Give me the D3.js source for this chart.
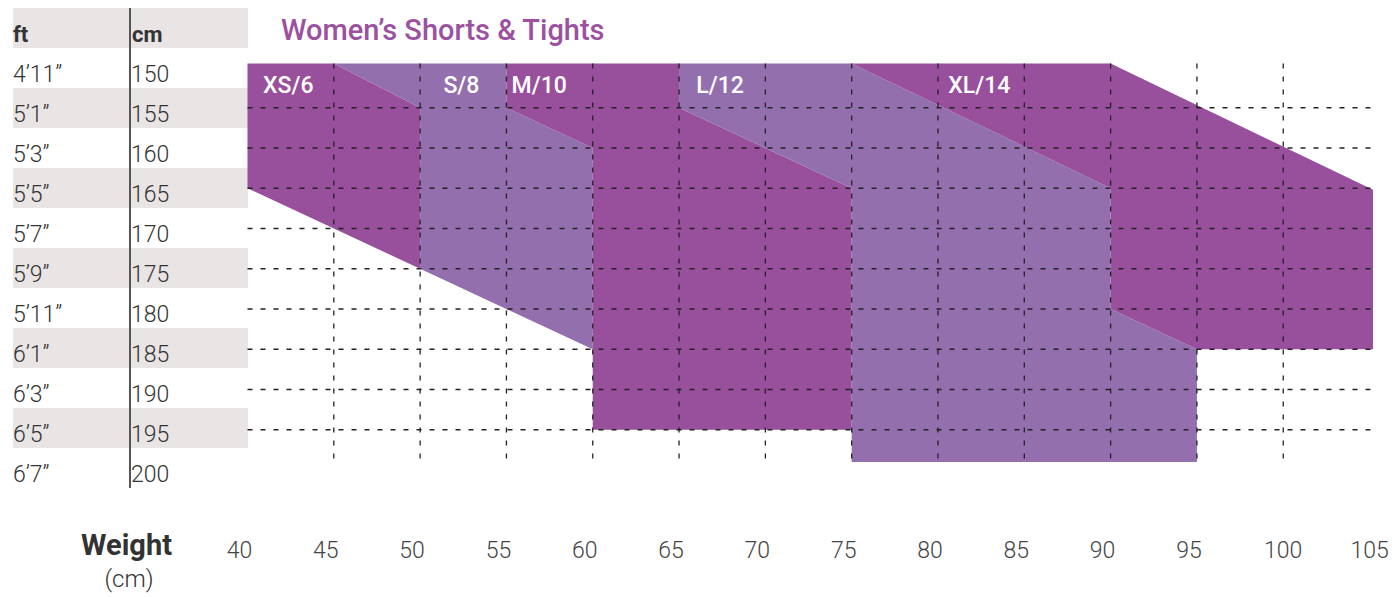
<!DOCTYPE html>
<html>
<head>
<meta charset="utf-8">
<script src="https://cdn.jsdelivr.net/npm/d3@7"></script>
<style>
  body { margin: 0; background: #fff; }
  text { font-family: Roboto, "Noto Sans", sans-serif; }
</style>
</head>
<body>
<div id="chart"></div>
<script>

// table rows (height)
let ftLabels = ["4’11”", "5’1”", "5’3”", "5’5”", "5’7”", "5’9”", "5’11”", "6’1”", "6’3”", "6’5”", "6’7”"];
let cmLabels = [150, 155, 160, 165, 170, 175, 180, 185, 190, 195, 200];

// weight axis
let weightTicks = [40, 45, 50, 55, 60, 65, 70, 75, 80, 85, 90, 95, 100, 105];
let gridWeights = [45, 50, 55, 60, 65, 70, 75, 80, 85, 90, 95, 100];
let gridHeights = [155, 160, 165, 170, 175, 180, 185, 190, 195];

// size regions: [weight kg, height cm] corners
let sizeNames = ["XS/6", "S/8", "M/10", "L/12", "XL/14"];
let sizeTones = ["dark", "light", "dark", "light", "dark"];
let sizeLabelAt = [40.9, 51.35, 55.3, 66.0, 80.6];
let sizeShapes = [
  [[40, 149.5], [45, 149.5], [50, 155], [50, 175], [40, 165]],
  [[45, 149.5], [55, 149.5], [55, 155], [60, 160], [60, 185], [50, 175], [50, 155]],
  [[55, 149.5], [65, 149.5], [65, 155], [75, 165], [75, 195], [60, 195], [60, 160], [55, 155]],
  [[65, 149.5], [75, 149.5], [90, 165], [90, 180], [95, 185], [95, 199], [75, 199], [75, 165], [65, 155]],
  [[75, 149.5], [90, 149.5], [105.2, 165.2], [105.2, 185], [95, 185], [90, 180], [90, 165]]
];

let colors = { dark: "#984f9c", light: "#946fae" };

let width = 1398, height = 597;

let svg = d3.select("#chart")
  .append("svg")
  .attr("width", width)
  .attr("height", height);

let x = d3.scaleLinear()
  .domain([40, 105.2])
  .range([247.5, 1373]);

let y = d3.scaleLinear()
  .domain([150, 200])
  .range([67.5, 470]);

// ---- left table ----
let rowKeys = ["head"].concat(cmLabels);
let row = d3.scaleBand()
  .domain(rowKeys)
  .range([8, 488]);

svg.append("g")
  .selectAll("rect")
  .data(rowKeys.filter((d, i) => i % 2 === 0))
  .enter()
  .append("rect")
  .attr("x", 13)
  .attr("y", d => row(d))
  .attr("width", 248 - 13)
  .attr("height", row.bandwidth())
  .style("fill", "#e8e5e4");

svg.append("line")
  .attr("x1", 130).attr("x2", 130)
  .attr("y1", row.range()[0]).attr("y2", row.range()[1])
  .attr("stroke", "#555")
  .style("stroke-width", 2);

let head = svg.append("g")
  .style("font-size", "22px")
  .style("font-weight", 700)
  .style("fill", "#333");
head.append("text").attr("x", 13).attr("y", row("head") + 34).text("ft");
head.append("text").attr("x", 132).attr("y", row("head") + 34).text("cm");

let rows = svg.append("g")
  .style("font-size", "23px")
  .style("font-weight", 300)
  .style("fill", "#333");

rows.selectAll(".ft")
  .data(cmLabels)
  .enter()
  .append("text")
  .attr("x", 13)
  .attr("y", d => row(d) + 34)
  .text((d, i) => ftLabels[i]);

rows.selectAll(".cm")
  .data(cmLabels)
  .enter()
  .append("text")
  .attr("x", 131)
  .attr("y", d => row(d) + 34)
  .text(d => d);

// ---- title ----
svg.append("text")
  .attr("x", 281)
  .attr("y", 40)
  .style("font-size", "29px")
  .style("font-weight", 500)
  .style("fill", "#9b51a0")
  .text("Women’s Shorts & Tights");

// ---- size regions ----
let line = d3.line()
  .x(d => x(d[0]))
  .y(d => y(d[1]));

svg.append("g")
  .selectAll("path")
  .data(sizeShapes)
  .enter()
  .append("path")
  .attr("d", d => line(d) + "Z")
  .style("fill", (d, i) => colors[sizeTones[i]]);

// ---- dashed grid ----
let grid = svg.append("g")
  .attr("stroke", "#222")
  .style("stroke-width", 1.3)
  .style("stroke-dasharray", "5,8");

grid.selectAll(".h")
  .data(gridHeights)
  .enter()
  .append("line")
  .attr("x1", x(40)).attr("x2", x(105.2))
  .attr("y1", d => y(d)).attr("y2", d => y(d));

grid.selectAll(".v")
  .data(gridWeights)
  .enter()
  .append("line")
  .attr("x1", d => x(d)).attr("x2", d => x(d))
  .attr("y1", y(149.5)).attr("y2", y(199));

// ---- size labels ----
svg.append("g")
  .selectAll("text")
  .data(sizeNames)
  .enter()
  .append("text")
  .attr("x", (d, i) => x(sizeLabelAt[i]))
  .attr("y", 93)
  .style("font-size", "23px")
  .style("font-weight", 500)
  .style("fill", "#fff")
  .text(d => d);

// ---- weight axis ----
svg.append("g")
  .selectAll("text")
  .data(weightTicks)
  .enter()
  .append("text")
  .attr("x", d => x(d) + (d >= 100 ? 0 : -8))
  .attr("y", 558)
  .attr("text-anchor", "middle")
  .style("font-size", "23px")
  .style("font-weight", 300)
  .style("fill", "#444")
  .text(d => d);

svg.append("text")
  .attr("x", 172)
  .attr("y", 555)
  .attr("text-anchor", "end")
  .style("font-size", "29px")
  .style("font-weight", 700)
  .style("fill", "#333")
  .text("Weight");

svg.append("text")
  .attr("x", 129)
  .attr("y", 587)
  .attr("text-anchor", "middle")
  .style("font-size", "24px")
  .style("font-weight", 300)
  .style("fill", "#333")
  .text("(cm)");

</script>
</body>
</html>
